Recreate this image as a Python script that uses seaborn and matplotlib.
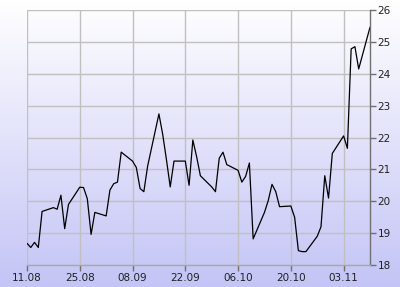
import numpy as np
import pandas as pd
import matplotlib
matplotlib.use("Agg")
import matplotlib.pyplot as plt
import matplotlib.dates as mdates
import seaborn as sns

dates = ["2014-08-11", "2014-08-12", "2014-08-13", "2014-08-14", "2014-08-15",
         "2014-08-18", "2014-08-19", "2014-08-20", "2014-08-21", "2014-08-22",
         "2014-08-25", "2014-08-26", "2014-08-27", "2014-08-28", "2014-08-29",
         "2014-09-01", "2014-09-02", "2014-09-03", "2014-09-04", "2014-09-05",
         "2014-09-08", "2014-09-09", "2014-09-10", "2014-09-11", "2014-09-12",
         "2014-09-15", "2014-09-16", "2014-09-17", "2014-09-18", "2014-09-19",
         "2014-09-22", "2014-09-23", "2014-09-24", "2014-09-25", "2014-09-26",
         "2014-09-29", "2014-09-30", "2014-10-01", "2014-10-02", "2014-10-03",
         "2014-10-06", "2014-10-07", "2014-10-08", "2014-10-09", "2014-10-10",
         "2014-10-13", "2014-10-14", "2014-10-15", "2014-10-16", "2014-10-17",
         "2014-10-20", "2014-10-21", "2014-10-22", "2014-10-23", "2014-10-24",
         "2014-10-27", "2014-10-28", "2014-10-29", "2014-10-30", "2014-10-31",
         "2014-11-03", "2014-11-04", "2014-11-05", "2014-11-06", "2014-11-07",
         "2014-11-10"]
values = [18.68, 18.55, 18.71, 18.55, 19.68,
          19.80, 19.75, 20.19, 19.14, 19.90,
          20.44, 20.43, 20.08, 18.96, 19.65,
          19.54, 20.35, 20.55, 20.60, 21.54,
          21.26, 21.06, 20.40, 20.30, 21.10,
          22.74, 22.10, 21.30, 20.45, 21.26,
          21.26, 20.50, 21.92, 21.40, 20.80,
          20.45, 20.30, 21.35, 21.54, 21.15,
          20.97, 20.60, 20.78, 21.20, 18.82,
          19.65, 20.02, 20.53, 20.30, 19.83,
          19.85, 19.50, 18.45, 18.42, 18.42,
          18.90, 19.20, 20.80, 20.10, 21.50,
          22.05, 21.66, 24.78, 24.85, 24.15,
          25.46]
tick_dates = ["2014-08-11", "2014-08-25", "2014-09-08", "2014-09-22",
              "2014-10-06", "2014-10-20", "2014-11-03"]
y_ticks = [18, 19, 20, 21, 22, 23, 24, 25, 26]

df = pd.DataFrame({"date": pd.to_datetime(dates), "value": values})

sns.set_theme(style="white")
plt.rcParams['font.family'] = ['DejaVu Sans']

fig = plt.figure(figsize=(4.0, 2.87), dpi=100)

# gradient background over whole figure
bg = fig.add_axes([0, 0, 1, 1], zorder=0)
top = np.array([1.0, 1.0, 1.0])
bot = np.array([196, 196, 246]) / 255.0
t = np.linspace(0, 1, 287)[:, None, None]
grad = top * (1 - t) + bot * t
grad = np.repeat(grad, 4, axis=1)
bg.imshow(grad, aspect="auto", extent=[0, 1, 0, 1], interpolation="bilinear")
bg.set_axis_off()

ax = fig.add_axes([27/400, 1 - 265/287, 343/400, 255/287], zorder=1)
ax.patch.set_alpha(0)

sns.lineplot(data=df, x="date", y="value", ax=ax, color="black", linewidth=0.9)

ax.set_xlim(pd.Timestamp("2014-08-11"), pd.Timestamp("2014-11-10"))
ax.set_ylim(18, 26)
ax.set_xticks(pd.to_datetime(tick_dates))
ax.xaxis.set_major_formatter(mdates.DateFormatter("%d.%m"))
ax.set_yticks(y_ticks)
ax.yaxis.tick_right()
ax.grid(True, color="#c0c0c0", linewidth=1.0)
ax.set_axisbelow(True)
ax.set_xlabel("")
ax.set_ylabel("")

for s in ["left", "top"]:
    ax.spines[s].set_visible(False)
ax.spines["bottom"].set_color("#a8a8a8")
ax.spines["bottom"].set_linewidth(1.0)
ax.spines["right"].set_color("#707070")
ax.spines["right"].set_linewidth(1.0)

ax.tick_params(axis="x", which="major", bottom=True, length=4, width=1,
               color="#707070", labelsize=7.5, labelcolor="#202020", pad=1.5)
ax.tick_params(axis="y", which="major", right=True, left=False, length=4,
               width=1, color="#707070", labelsize=7.5, labelcolor="#202020",
               pad=1.5)

fig.savefig("out.png", dpi=100)
